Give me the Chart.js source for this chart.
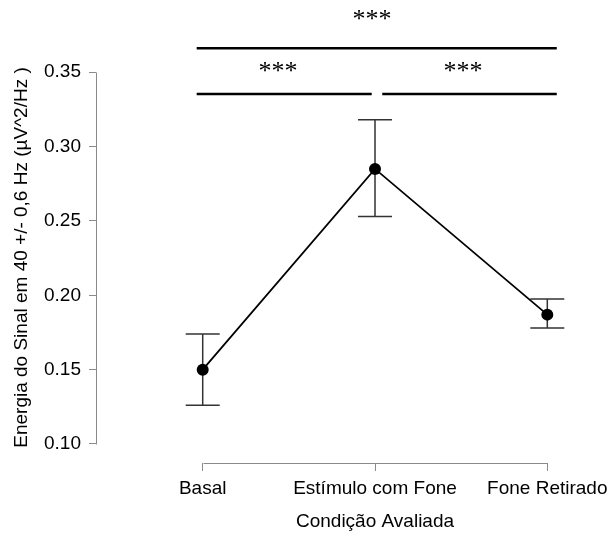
<!DOCTYPE html>
<html>
<head>
<meta charset="utf-8">
<script src="https://cdn.jsdelivr.net/npm/chart.js@4"></script>
<style>
  html, body { margin: 0; padding: 0; background: #fff; }
  canvas { display: block; }
</style>
</head>
<body>
<canvas id="chart" width="610" height="536"></canvas>
<script>
// data
const categories = ['Basal', 'Estímulo com Fone', 'Fone Retirado'];
const means = [0.150, 0.285, 0.187];
const upper = [0.174, 0.318, 0.1975];
const lower = [0.126, 0.253, 0.178];
const yTickValues = [0.10, 0.15, 0.20, 0.25, 0.30, 0.35];
const xTitle = 'Condição Avaliada';
const yTitle = 'Energia do Sinal em 40 +/- 0,6 Hz (µV^2/Hz )';

// significance brackets (x in category units 1..3, y in axis units)
const brackets = [
    { x1: 0.965, x2: 3.055, y: 0.3661, labelX: 1.983, labelY: 0.3803, text: '***' },
    { x1: 0.965, x2: 1.981, y: 0.3354, labelX: 1.437, labelY: 0.3453, text: '***' },
    { x1: 2.042, x2: 3.055, y: 0.3354, labelX: 2.511, labelY: 0.3453, text: '***' }
];

const FONT = "'Liberation Sans', Arial, sans-serif";
const AXIS_COLOR = '#8a8a8a';

const extrasPlugin = {
    id: 'extras',
    beforeDatasetsDraw(chart) {
        const ctx = chart.ctx;
        const xs = chart.scales.x, ys = chart.scales.y;
        ctx.save();
        // R style axis lines, only across the tick range
        ctx.strokeStyle = AXIS_COLOR;
        ctx.lineWidth = 1;
        const ax = Math.round(chart.chartArea.left) + 0.5;
        ctx.beginPath();
        ctx.moveTo(ax, Math.round(ys.getPixelForValue(yTickValues[0])) + 0.5);
        ctx.lineTo(ax, Math.round(ys.getPixelForValue(yTickValues[yTickValues.length - 1])) + 0.5);
        const ay = Math.round(chart.chartArea.bottom) + 0.5;
        ctx.moveTo(Math.round(xs.getPixelForValue(1)) + 0.5, ay);
        ctx.lineTo(Math.round(xs.getPixelForValue(categories.length)) + 0.5, ay);
        ctx.stroke();

        // error bars
        ctx.strokeStyle = '#333';
        ctx.lineWidth = 1.5;
        const cap = 17;
        categories.forEach((c, i) => {
            const x = xs.getPixelForValue(i + 1);
            const yt = ys.getPixelForValue(upper[i]);
            const yb = ys.getPixelForValue(lower[i]);
            ctx.beginPath();
            ctx.moveTo(x, yt); ctx.lineTo(x, yb);
            ctx.moveTo(x - cap, yt); ctx.lineTo(x + cap, yt);
            ctx.moveTo(x - cap, yb); ctx.lineTo(x + cap, yb);
            ctx.stroke();
        });

        // x title centred under the middle category, like R does on the plot region
        ctx.fillStyle = '#000';
        ctx.font = '19px ' + FONT;
        ctx.textAlign = 'center';
        ctx.textBaseline = 'middle';
        ctx.fillText(xTitle, xs.getPixelForValue(2), 521.5);
        ctx.restore();
    },
    afterDraw(chart) {
        const ctx = chart.ctx;
        const xs = chart.scales.x, ys = chart.scales.y;
        ctx.save();
        ctx.strokeStyle = '#000';
        ctx.lineWidth = 2.5;
        ctx.fillStyle = '#000';
        ctx.font = "26px 'Liberation Serif', 'Times New Roman', serif";
        ctx.textAlign = 'center';
        ctx.textBaseline = 'alphabetic';
        brackets.forEach(b => {
            const y = ys.getPixelForValue(b.y);
            ctx.beginPath();
            ctx.moveTo(xs.getPixelForValue(b.x1), y);
            ctx.lineTo(xs.getPixelForValue(b.x2), y);
            ctx.stroke();
            ctx.fillText(b.text, xs.getPixelForValue(b.labelX), ys.getPixelForValue(b.labelY));
        });
        ctx.restore();
    }
};

new Chart(document.getElementById('chart'), {
    type: 'line',
    data: {
        datasets: [{
            data: means.map((v, i) => ({ x: i + 1, y: v })),
            borderColor: '#000',
            borderWidth: 1.8,
            backgroundColor: '#000',
            pointRadius: 6,
            pointBackgroundColor: '#000',
            pointBorderWidth: 0,
            tension: 0,
            fill: false
        }]
    },
    options: {
        responsive: false,
        animation: false,
        events: [],
        layout: { padding: { top: 52, right: 20, left: 0, bottom: 0 } },
        plugins: {
            legend: { display: false },
            tooltip: { enabled: false }
        },
        scales: {
            x: {
                type: 'linear',
                min: 0.3807,
                max: 3.2478,
                afterBuildTicks: s => { s.ticks = categories.map((c, i) => ({ value: i + 1 })); },
                afterFit: s => { s.height = 73; s.paddingLeft = 0; s.paddingRight = 0; },
                border: { display: false },
                grid: { drawOnChartArea: false, drawTicks: true, tickLength: 8, color: AXIS_COLOR },
                ticks: {
                    autoSkip: false,
                    maxRotation: 0,
                    padding: 6,
                    color: '#000',
                    font: { family: FONT, size: 19 },
                    callback: v => categories[v - 1]
                }
            },
            y: {
                min: 0.08722,
                max: 0.36362,
                afterBuildTicks: s => { s.ticks = yTickValues.map(v => ({ value: v })); },
                afterFit: s => { s.width = 96; },
                border: { display: false },
                grid: { drawOnChartArea: false, drawTicks: true, tickLength: 7, color: AXIS_COLOR },
                ticks: {
                    padding: 8,
                    color: '#000',
                    font: { family: FONT, size: 19 },
                    callback: v => v.toFixed(2)
                },
                title: {
                    display: true,
                    text: yTitle,
                    color: '#000',
                    font: { family: FONT, size: 19 },
                    padding: { top: 10, bottom: 0 }
                }
            }
        }
    },
    plugins: [extrasPlugin]
});
</script>
</body>
</html>
